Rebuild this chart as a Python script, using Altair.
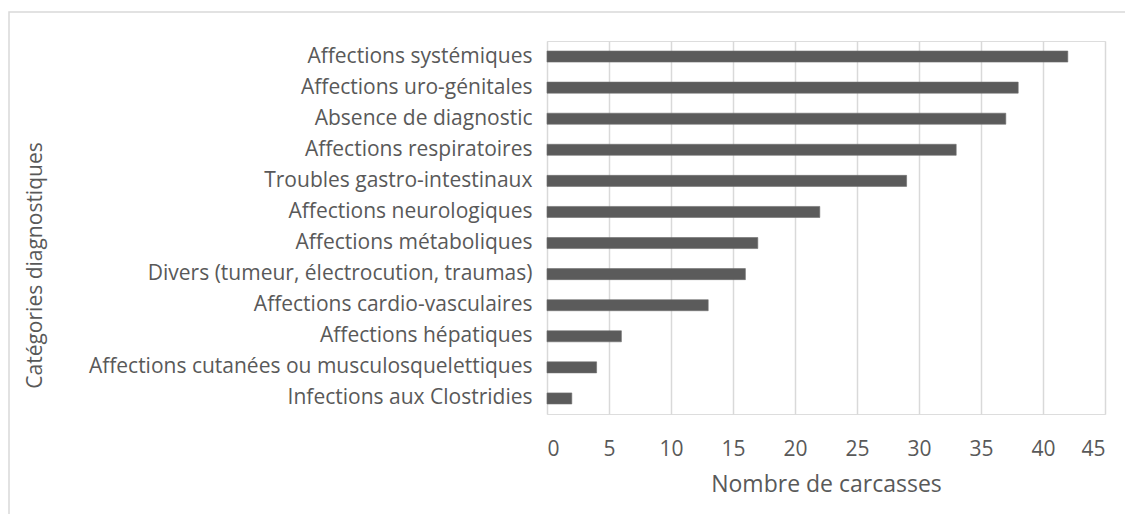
import altair as alt
import pandas as pd

categories = [
    "Affections systémiques",
    "Affections uro-génitales",
    "Absence de diagnostic",
    "Affections respiratoires",
    "Troubles gastro-intestinaux",
    "Affections neurologiques",
    "Affections métaboliques",
    "Divers (tumeur, électrocution, traumas)",
    "Affections cardio-vasculaires",
    "Affections hépatiques",
    "Affections cutanées ou musculosquelettiques",
    "Infections aux Clostridies",
]
values = [42, 38, 37, 33, 29, 22, 17, 16, 13, 6, 4, 2]
x_ticks = [0, 5, 10, 15, 20, 25, 30, 35, 40, 45]

df = pd.DataFrame({"cat": categories, "val": values})

FONT = "Open Sans"
TXT = "#595959"

bars = alt.Chart(df).mark_bar(color="#5b5b5b", stroke="#6e6e6e", strokeWidth=0.6).encode(
    x=alt.X(
        "val:Q",
        scale=alt.Scale(domain=[0, 45], nice=False),
        axis=alt.Axis(
            values=x_ticks,
            title="Nombre de carcasses",
            titleFont=FONT,
            titleFontSize=23,
            titleFontWeight="normal",
            titleColor=TXT,
            titlePadding=14,
            labelFont=FONT,
            labelFontSize=21,
            labelColor=TXT,
            labelPadding=24,
            domain=False,
            ticks=False,
            grid=True,
            gridColor="#d9d9d9",
            gridWidth=1.5,
        ),
    ),
    y=alt.Y(
        "cat:N",
        sort=None,
        scale=alt.Scale(paddingInner=0.645, paddingOuter=0.3225),
        axis=alt.Axis(
            title="Catégories diagnostiques",
            titleFont=FONT,
            titleFontSize=21,
            titleFontWeight="normal",
            titleColor=TXT,
            titleAngle=270,
            titleAlign="center",
            titleBaseline="middle",
            titleX=-512,
            titleY=224,
            labelFont=FONT,
            labelFontSize=21,
            labelColor=TXT,
            labelPadding=15,
            labelLimit=700,
            domain=False,
            ticks=False,
            grid=False,
        ),
    ),
)

border = alt.Chart(pd.DataFrame({"a": [0]})).mark_rect(
    filled=False, stroke="#d9d9d9", strokeWidth=1.5
).encode(
    x=alt.value(-538),
    x2=alt.value(600),
    y=alt.value(-29),
    y2=alt.value(520),
)

chart = alt.layer(border, bars).properties(
    width=558,
    height=373,
    autosize=alt.AutoSizeParams(type="none"),
    padding={"left": 539, "top": 33, "right": 20, "bottom": 100},
).configure_view(stroke=None).configure(background="white")

chart.save("out.html", embed_options={"renderer": "svg", "actions": False})
